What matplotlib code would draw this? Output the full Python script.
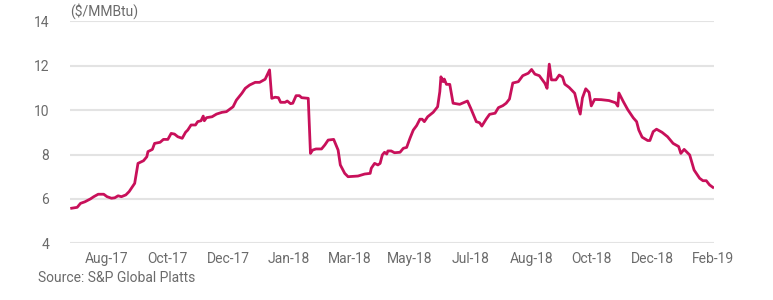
import numpy as np
import matplotlib
matplotlib.use("Agg")
import matplotlib.pyplot as plt

# days since start of series (mid-Jul 2017) and price in $/MMBtu
day = [0, 5, 8, 12, 17, 20, 24, 29, 32, 36, 39, 42, 45, 49, 52, 54, 57, 60,
       65, 68, 69, 73, 75, 80, 83, 87, 90, 93, 96, 100, 103, 105, 108, 112,
       114, 117, 119, 120, 122, 127, 131, 136, 140, 143, 146, 149, 154, 157,
       161, 166, 170, 175, 179, 181, 184, 187, 189, 193, 195, 198, 200, 203,
       206, 208, 214, 216, 218, 221, 226, 229, 232, 237, 241, 243, 247, 250,
       259, 265, 270, 271, 274, 277, 279, 281, 283, 285, 286, 289, 292, 297,
       300, 303, 306, 309, 312, 315, 317, 319, 322, 327, 331, 333, 334, 336,
       337, 339, 342, 345, 351, 358, 361, 366, 369, 371, 375, 378, 383, 386,
       390, 393, 396, 399, 404, 408, 413, 416, 419, 423, 428, 430, 432, 434,
       438, 441, 444, 446, 450, 455, 458, 460, 462, 465, 468, 470, 473, 479,
       486, 492, 494, 495, 499, 503, 508, 511, 513, 516, 521, 523, 526, 529,
       534, 539, 544, 549, 551, 554, 559, 563, 568, 571, 574, 577, 580]
price = [5.58, 5.62, 5.80, 5.87, 6.00, 6.10, 6.21, 6.21, 6.10, 6.03, 6.05,
         6.14, 6.10, 6.18, 6.33, 6.48, 6.70, 7.60, 7.72, 7.90, 8.13, 8.23,
         8.50, 8.55, 8.68, 8.68, 8.95, 8.92, 8.80, 8.73, 9.00, 9.10, 9.33,
         9.33, 9.48, 9.52, 9.73, 9.52, 9.66, 9.70, 9.82, 9.90, 9.93, 10.04,
         10.15, 10.45, 10.76, 10.98, 11.13, 11.25, 11.25, 11.39, 11.81, 10.53,
         10.58, 10.56, 10.35, 10.35, 10.41, 10.29, 10.31, 10.65, 10.65, 10.56,
         10.53, 8.05, 8.20, 8.25, 8.25, 8.43, 8.65, 8.68, 8.20, 7.53, 7.15,
         7.00, 7.03, 7.12, 7.15, 7.38, 7.60, 7.53, 7.60, 7.98, 8.10, 8.02,
         8.16, 8.16, 8.08, 8.10, 8.28, 8.32, 8.73, 9.10, 9.30, 9.59, 9.59,
         9.48, 9.70, 9.90, 10.15, 10.83, 11.50, 11.28, 11.40, 11.16, 11.16,
         10.31, 10.26, 10.41, 10.08, 9.48, 9.43, 9.28, 9.60, 9.81, 9.86, 10.11,
         10.20, 10.31, 10.50, 11.22, 11.28, 11.55, 11.66, 11.83, 11.62, 11.55,
         11.21, 10.98, 12.07, 11.36, 11.36, 11.58, 11.49, 11.17, 11.02, 10.76,
         10.15, 9.82, 10.55, 10.96, 10.80, 10.19, 10.48, 10.47, 10.43, 10.33,
         10.18, 10.77, 10.38, 10.02, 9.65, 9.48, 9.10, 8.78, 8.63, 8.63, 9.03,
         9.14, 9.00, 8.80, 8.50, 8.36, 8.05, 8.23, 7.98, 7.30, 6.93, 6.82,
         6.82, 6.63, 6.52]

tick_labels = ["Aug-17", "Oct-17", "Dec-17", "Jan-18", "Mar-18", "May-18",
               "Jul-18", "Aug-18", "Oct-18", "Dec-18", "Feb-19"]
y_ticks = [4, 6, 8, 10, 12, 14]

text_color = "#6b6b6b"
plt.rcParams["font.family"] = ["Roboto", "DejaVu Sans"]

fig = plt.figure(figsize=(7.73, 3.0), dpi=100)
ax = fig.add_axes([70 / 773, 1 - 243.3 / 300, 644 / 773, 222 / 300])

ax.plot(day, price, color="#c8105a", lw=2.0, solid_joinstyle="round")

ax.set_ylim(4, 14)
ax.set_xlim(-1.5, 581)
ax.set_yticks(y_ticks)
ax.set_xticks(np.linspace(32, 580, len(tick_labels)))
ax.set_xticklabels(tick_labels)
ax.tick_params(axis="both", length=0, labelsize=10, colors=text_color)
ax.tick_params(axis="y", pad=15)
ax.tick_params(axis="x", pad=6)
ax.grid(axis="y", color="#e3e3e3", lw=1.5)
ax.set_axisbelow(True)
for s in ax.spines.values():
    s.set_visible(False)

fig.text(70 / 773, 1 - 11 / 300, "($/MMBtu)", fontsize=10, color=text_color,
         va="center", ha="left")
fig.text(38 / 773, 1 - 278 / 300, "Source: S&P Global Platts", fontsize=10,
         color=text_color, va="center", ha="left")

fig.savefig("out.png", dpi=100, facecolor="white")
